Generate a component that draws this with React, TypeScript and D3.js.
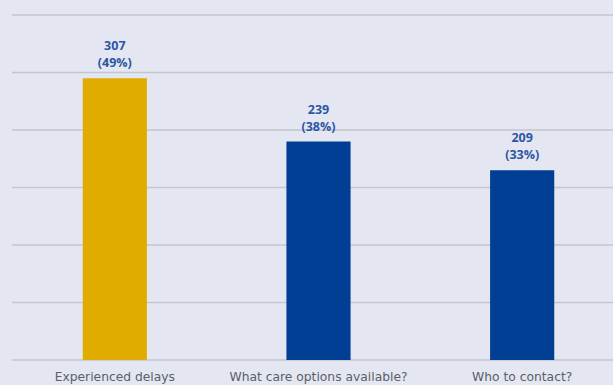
import React from "react";
import * as d3 from "d3";

const categories = ["Experienced delays", "What care options available?", "Who to contact?"];
const counts = [307, 239, 209];
const percents = [49, 38, 33];
const barColors = ["#e1ac00", "#003f93", "#003f93"];
const yTicks = [0, 10, 20, 30, 40, 50, 60];

const W = 613;
const H = 385;
const margin = { left: 12, top: 15, bottom: 24 };

export default function App() {
  const x = d3
    .scaleBand<string>()
    .domain(categories)
    .range([13, 624])
    .paddingInner(0.685)
    .paddingOuter(0.3425);
  const y = d3.scaleLinear().domain([0, 60]).range([H - margin.bottom - 1, margin.top]);

  return (
    <svg
      width={W}
      height={H}
      style={{ position: "absolute", left: 0, top: 0, background: "#e4e7f1" }}
    >
      <rect x={0} y={0} width={W} height={H} fill="#e4e7f1" />
      {yTicks.map((t) => (
        <line
          key={t}
          x1={margin.left}
          x2={W}
          y1={y(t)}
          y2={y(t)}
          stroke="#c3c6d0"
          strokeWidth={1.5}
        />
      ))}
      {categories.map((c, i) => {
        const bx = x(c)!;
        const bw = x.bandwidth();
        const top = y(percents[i]);
        const cx = bx + bw / 2;
        return (
          <g key={c}>
            <rect x={bx} y={top} width={bw} height={y(0) - top} fill={barColors[i]} />
            <text
              x={cx}
              y={top - 28}
              textAnchor="middle"
              fontFamily="'Open Sans', sans-serif"
              fontWeight={700}
              fontSize={12.5}
              fill="#2d56a3"
            >
              {counts[i]}
            </text>
            <text
              x={cx}
              y={top - 11}
              textAnchor="middle"
              fontFamily="'Open Sans', sans-serif"
              fontWeight={700}
              fontSize={12.5}
              fill="#2d56a3"
            >
              ({percents[i]}%)
            </text>
            <text
              x={cx}
              y={381}
              textAnchor="middle"
              fontFamily="'DejaVu Sans', sans-serif"
              fontSize={12.3}
              fill="#5a5f68"
            >
              {c}
            </text>
          </g>
        );
      })}
    </svg>
  );
}
